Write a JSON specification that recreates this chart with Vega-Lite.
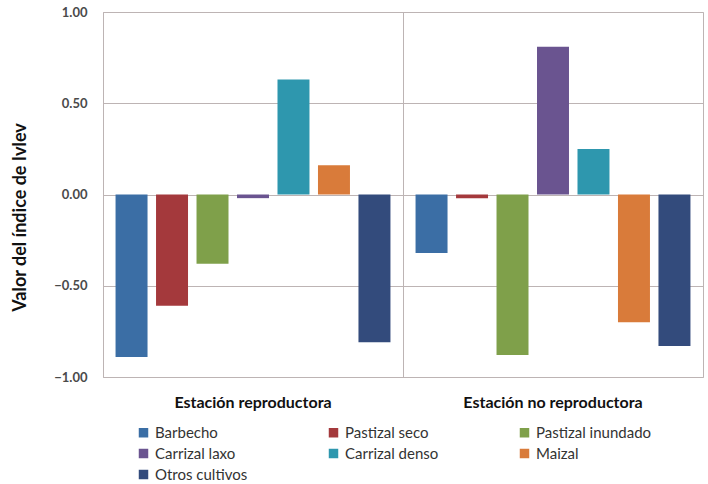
{
  "$schema": "https://vega.github.io/schema/vega-lite/v6.json",
  "width": 600,
  "height": 365,
  "autosize": "none",
  "padding": {"left": 103, "top": 12, "right": 5, "bottom": 107},
  "background": "white",
  "config": {
    "font": "Lato",
    "view": {"stroke": "#bdb4b4", "strokeWidth": 1}
  },
  "data": {
    "values": [
      {"estacion": "Estación reproductora", "habitat": "Barbecho", "valor": -0.89},
      {"estacion": "Estación reproductora", "habitat": "Pastizal seco", "valor": -0.61},
      {"estacion": "Estación reproductora", "habitat": "Pastizal inundado", "valor": -0.38},
      {"estacion": "Estación reproductora", "habitat": "Carrizal laxo", "valor": -0.02},
      {"estacion": "Estación reproductora", "habitat": "Carrizal denso", "valor": 0.63},
      {"estacion": "Estación reproductora", "habitat": "Maizal", "valor": 0.16},
      {"estacion": "Estación reproductora", "habitat": "Otros cultivos", "valor": -0.81},
      {"estacion": "Estación no reproductora", "habitat": "Barbecho", "valor": -0.32},
      {"estacion": "Estación no reproductora", "habitat": "Pastizal seco", "valor": -0.02},
      {"estacion": "Estación no reproductora", "habitat": "Pastizal inundado", "valor": -0.88},
      {"estacion": "Estación no reproductora", "habitat": "Carrizal laxo", "valor": 0.81},
      {"estacion": "Estación no reproductora", "habitat": "Carrizal denso", "valor": 0.25},
      {"estacion": "Estación no reproductora", "habitat": "Maizal", "valor": -0.70},
      {"estacion": "Estación no reproductora", "habitat": "Otros cultivos", "valor": -0.83}
    ]
  },
  "mark": {"type": "bar"},
  "encoding": {
    "x": {
      "field": "estacion",
      "type": "nominal",
      "sort": ["Estación reproductora", "Estación no reproductora"],
      "scale": {"paddingInner": 0, "paddingOuter": 0},
      "axis": {
        "title": null,
        "labelAngle": 0,
        "ticks": false,
        "domain": false,
        "grid": true,
        "bandPosition": 0,
        "gridColor": "#bdb4b4",
        "gridOpacity": 1,
        "labelFont": "Lato",
        "labelFontSize": 16,
        "labelFontWeight": "bold",
        "labelColor": "#111111",
        "labelPadding": 17,
        "encode": {
          "labels": {
            "update": {
              "dx": {"signal": "datum.value === 'Estación reproductora' ? -13 : 12"}
            }
          }
        }
      }
    },
    "xOffset": {
      "field": "habitat",
      "type": "nominal",
      "sort": ["Barbecho", "Pastizal seco", "Pastizal inundado", "Carrizal laxo", "Carrizal denso", "Maizal", "Otros cultivos"],
      "scale": {"paddingInner": 0.21, "paddingOuter": 0.31}
    },
    "y": {
      "field": "valor",
      "type": "quantitative",
      "scale": {"domain": [-1, 1], "nice": false, "zero": false},
      "axis": {
        "title": "Valor del índice de Ivlev",
        "titleFont": "Lato",
        "titleFontSize": 18,
        "titleFontWeight": "bold",
        "titleColor": "#111111",
        "titlePadding": 24,
        "titleY": 205,
        "values": [-1, -0.5, 0, 0.5, 1],
        "format": ".2f",
        "ticks": false,
        "domain": false,
        "grid": true,
        "gridColor": "#bdb4b4",
        "gridOpacity": 1,
        "labelFont": "Lato",
        "labelFontSize": 13,
        "labelFontWeight": "bold",
        "labelColor": "#4a4a4a",
        "labelPadding": 16
      }
    },
    "color": {
      "field": "habitat",
      "type": "nominal",
      "scale": {
        "domain": ["Barbecho", "Pastizal seco", "Pastizal inundado", "Carrizal laxo", "Carrizal denso", "Maizal", "Otros cultivos"],
        "range": ["#3B6EA5", "#A4393C", "#7FA04A", "#6A5490", "#2E97AE", "#D97B3A", "#334B7C"]
      },
      "legend": {
        "title": null,
        "orient": "none",
        "legendX": 33,
        "legendY": 413,
        "direction": "horizontal",
        "columns": 3,
        "gridAlign": "each",
        "columnPadding": 78,
        "rowPadding": 5,
        "padding": 0,
        "symbolType": "square",
        "symbolSize": 90,
        "symbolStrokeWidth": 0,
        "symbolOpacity": 1,
        "labelFont": "Lato",
        "labelFontSize": 15,
        "labelColor": "#333333",
        "labelOffset": 4
      }
    }
  }
}
